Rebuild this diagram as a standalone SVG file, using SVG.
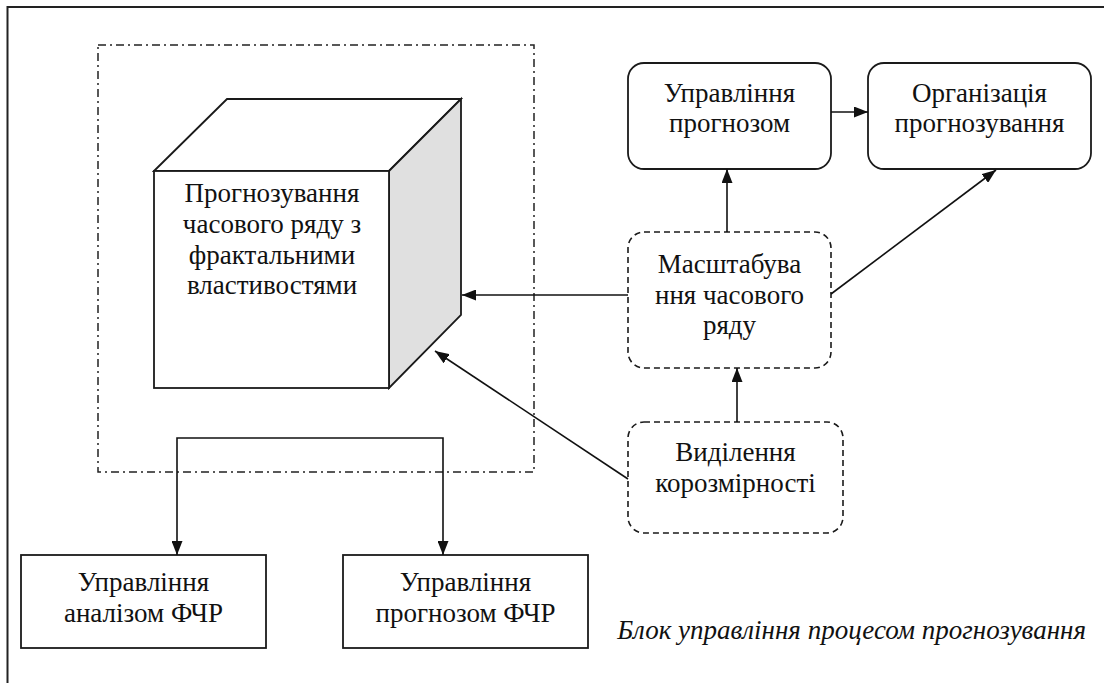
<svg xmlns="http://www.w3.org/2000/svg" width="1104" height="683" viewBox="0 0 1104 683">
<defs>
<marker id="ah" viewBox="0 0 14 11" refX="14" refY="5.5" markerWidth="14" markerHeight="11" markerUnits="userSpaceOnUse" orient="auto">
<path d="M0,0 L14,5.5 L0,11 Z" fill="#111"/>
</marker>
</defs>
<rect width="1104" height="683" fill="#fff"/>
<path d="M7.5,683 V7 H1104" fill="none" stroke="#222" stroke-width="2"/>
<g id="frame">
<rect x="98" y="45" width="436" height="427" fill="none" stroke="#222" stroke-width="1.5" stroke-dasharray="8 4 2 4"/>
</g>
<g stroke="#1a1a1a" stroke-width="1.8" fill="#fff">
<g id="cube">
<polygon points="154,171 227,99 461,99 389,171"/>
<polygon points="389,171 461,99 461,315 389,388" fill="#e0e0e0"/>
<rect x="154" y="171" width="235" height="217"/>
</g>
<g id="upr-prognoz-box"><rect x="628" y="63" width="203" height="106" rx="16"/></g>
<g id="organizatsia-box"><rect x="868" y="63" width="223" height="106" rx="16"/></g>
<g id="masshtab-box"><rect x="628" y="232" width="203" height="136" rx="16" stroke-width="1.6" stroke-dasharray="6 4"/></g>
<g id="vydilennia-box"><rect x="628" y="422" width="215" height="111" rx="16" stroke-width="1.6" stroke-dasharray="6 4"/></g>
<g id="upr-analiz-box"><rect x="21" y="555" width="245" height="93"/></g>
<g id="upr-prognoz-fchr-box"><rect x="343" y="555" width="245" height="93"/></g>
</g>
<g id="connectors" fill="none" stroke="#111" stroke-width="1.6">
<line x1="831" y1="112" x2="868" y2="112" marker-end="url(#ah)"/>
<line x1="727" y1="232" x2="727" y2="169" marker-end="url(#ah)"/>
<line x1="831" y1="294" x2="996" y2="170" marker-end="url(#ah)"/>
<line x1="628" y1="295" x2="462" y2="295" marker-end="url(#ah)"/>
<line x1="737" y1="422" x2="737" y2="368" marker-end="url(#ah)"/>
<line x1="628" y1="479" x2="435" y2="351" marker-end="url(#ah)"/>
<path d="M310,438 H177 V555" marker-end="url(#ah)"/>
<path d="M310,438 H443 V555" marker-end="url(#ah)"/>
</g>
<g id="labels" font-family="Liberation Serif" font-size="27" fill="#111" text-anchor="middle">
<g id="cube-label">
<text x="272" y="202">Прогнозування</text>
<text x="272" y="233">часового ряду з</text>
<text x="272" y="264">фрактальними</text>
<text x="272" y="294">властивостями</text>
</g>
<g id="upr-prognoz">
<text x="729.5" y="102">Управління</text>
<text x="729.5" y="132">прогнозом</text>
</g>
<g id="organizatsia">
<text x="979.5" y="102">Організація</text>
<text x="979.5" y="132">прогнозування</text>
</g>
<g id="masshtab">
<text x="729.5" y="273">Масштабува</text>
<text x="729.5" y="304">ння часового</text>
<text x="729.5" y="334">ряду</text>
</g>
<g id="vydilennia">
<text x="735.5" y="461">Виділення</text>
<text x="735.5" y="492">корозмірності</text>
</g>
<g id="upr-analiz">
<text x="143.5" y="591">Управління</text>
<text x="143.5" y="622">аналізом ФЧР</text>
</g>
<g id="upr-prognoz-fchr">
<text x="465.5" y="591">Управління</text>
<text x="465.5" y="622">прогнозом ФЧР</text>
</g>
<text x="1086" y="639" font-style="italic" text-anchor="end">Блок управління процесом прогнозування</text>
</g>
</svg>
